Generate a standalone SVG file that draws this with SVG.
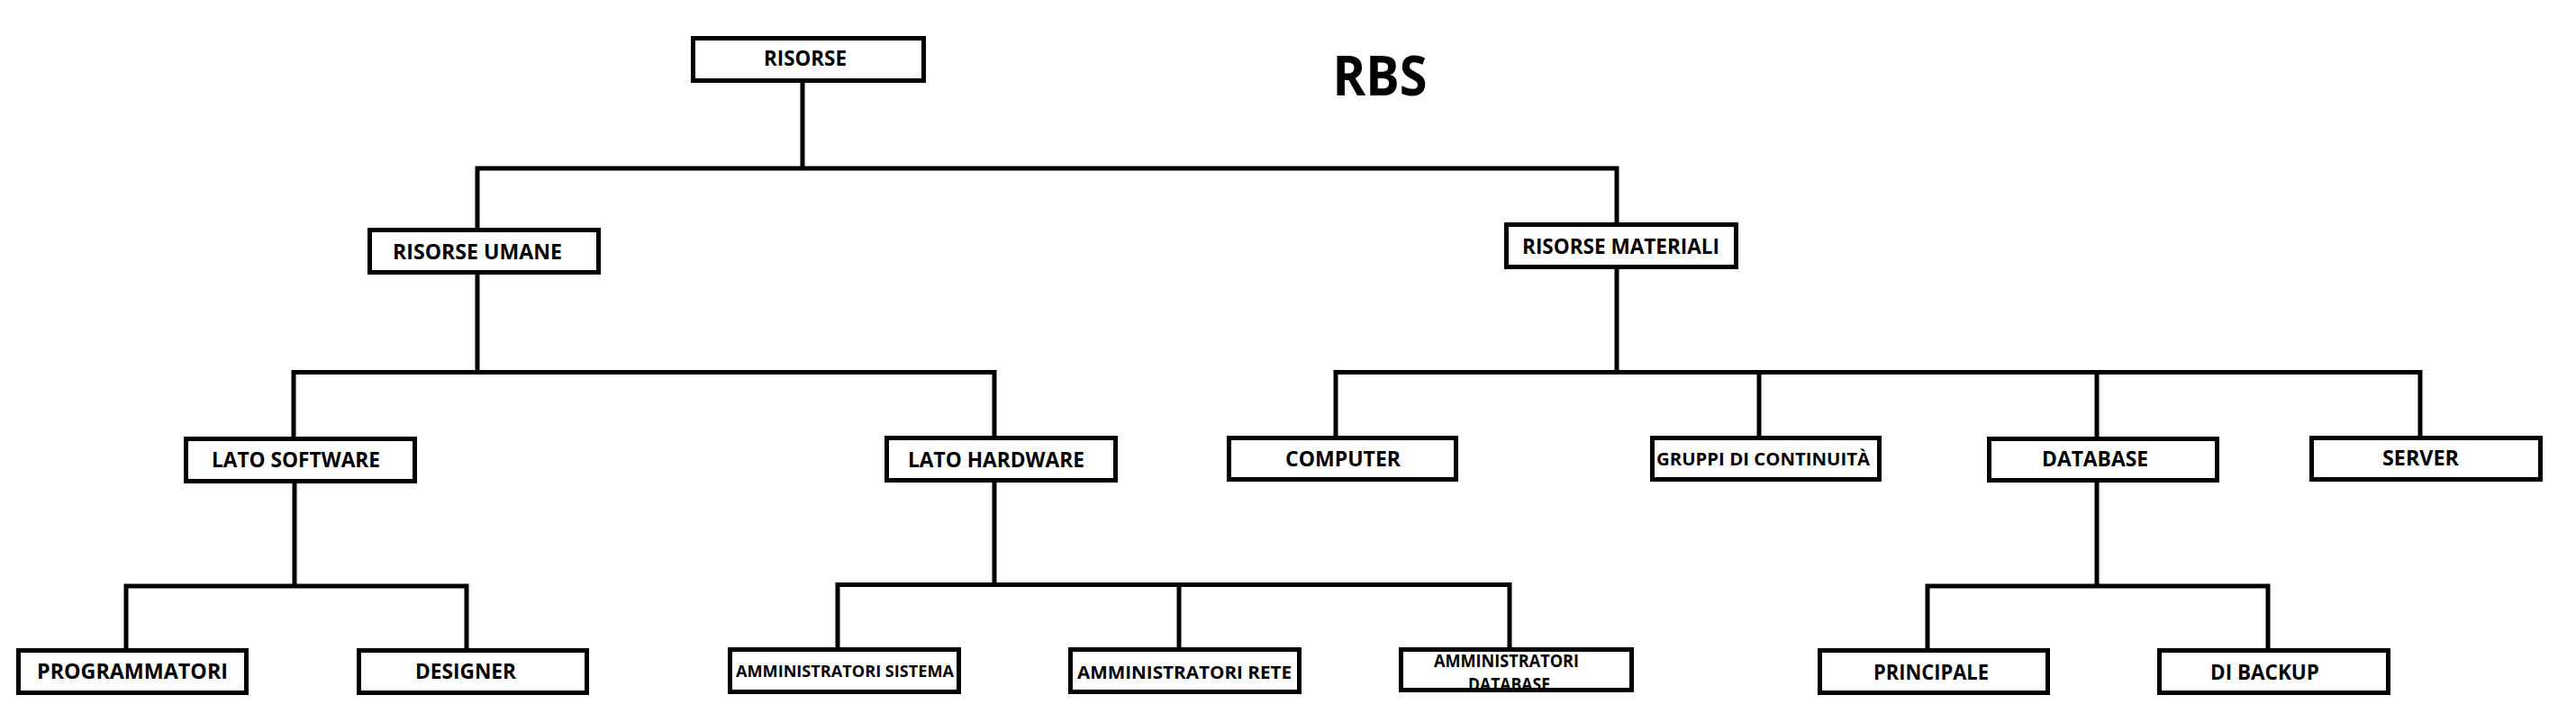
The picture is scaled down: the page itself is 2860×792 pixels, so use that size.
<svg xmlns="http://www.w3.org/2000/svg" width="2860" height="792" viewBox="0 0 2860 792">
<style>
.box{fill:#fff;stroke:#000;stroke-width:5}
.t{font-family:"Open Sans","DejaVu Sans",sans-serif;font-weight:bold;fill:#000;text-anchor:middle}
.c{fill:none;stroke:#000;stroke-width:5;stroke-linejoin:miter}
</style>
<rect width="2860" height="792" fill="#fff"/>
<g id="connectors">
<path class="c" d="M891 92V187M530 253V187H1795V247"/>
<path class="c" d="M530 305V413.5M326 485V413.5H1104V484"/>
<path class="c" d="M1795 299V413.5M1483 484V413.5H2687V484M1953 413.5V484M2328 413.5V485"/>
<path class="c" d="M327 537V651M140 720V651H518V720"/>
<path class="c" d="M1104 536V649.5M930 719V649.5H1676V719M1309 649.5V719"/>
<path class="c" d="M2328 536V651M2140 720V651H2518V720"/>
</g>
<text class="t" x="1532" y="106" font-size="60" textLength="105" lengthAdjust="spacingAndGlyphs">RBS</text>
<g id="n-risorse"><rect class="box" x="769.5" y="42.5" width="256" height="47"/><text class="t" x="894" y="73" font-size="23" textLength="92" lengthAdjust="spacingAndGlyphs">RISORSE</text></g>
<g id="n-umane"><rect class="box" x="410.5" y="255.5" width="254" height="47"/><text class="t" x="530" y="288" font-size="23" textLength="188" lengthAdjust="spacingAndGlyphs">RISORSE UMANE</text></g>
<g id="n-materiali"><rect class="box" x="1672.5" y="249.5" width="255" height="47"/><text class="t" x="1799.5" y="282" font-size="23" textLength="219" lengthAdjust="spacingAndGlyphs">RISORSE MATERIALI</text></g>
<g id="n-software"><rect class="box" x="206.5" y="487.5" width="254" height="47"/><text class="t" x="328.5" y="519" font-size="23" textLength="187" lengthAdjust="spacingAndGlyphs">LATO SOFTWARE</text></g>
<g id="n-hardware"><rect class="box" x="984.5" y="486.5" width="254" height="47"/><text class="t" x="1106" y="519" font-size="23" textLength="196" lengthAdjust="spacingAndGlyphs">LATO HARDWARE</text></g>
<g id="n-computer"><rect class="box" x="1364.5" y="486.5" width="252" height="46"/><text class="t" x="1491" y="518" font-size="23" textLength="128" lengthAdjust="spacingAndGlyphs">COMPUTER</text></g>
<g id="n-gruppi"><rect class="box" x="1834.5" y="486.5" width="252" height="46"/><text class="t" x="1957.5" y="517" font-size="20" textLength="237" lengthAdjust="spacingAndGlyphs">GRUPPI DI CONTINUITÀ</text></g>
<g id="n-database"><rect class="box" x="2208.5" y="487.5" width="253" height="46"/><text class="t" x="2326" y="518" font-size="23" textLength="118" lengthAdjust="spacingAndGlyphs">DATABASE</text></g>
<g id="n-server"><rect class="box" x="2566.5" y="486.5" width="254" height="46"/><text class="t" x="2687.5" y="517" font-size="23" textLength="85" lengthAdjust="spacingAndGlyphs">SERVER</text></g>
<g id="n-programmatori"><rect class="box" x="20.5" y="722.5" width="253" height="47"/><text class="t" x="147" y="754" font-size="23" textLength="212" lengthAdjust="spacingAndGlyphs">PROGRAMMATORI</text></g>
<g id="n-designer"><rect class="box" x="398.5" y="722.5" width="253" height="47"/><text class="t" x="517" y="754" font-size="23" textLength="112" lengthAdjust="spacingAndGlyphs">DESIGNER</text></g>
<g id="n-amm-sistema"><rect class="box" x="810.5" y="721.5" width="254" height="47"/><text class="t" x="938" y="752" font-size="18" textLength="242" lengthAdjust="spacingAndGlyphs">AMMINISTRATORI SISTEMA</text></g>
<g id="n-amm-rete"><rect class="box" x="1188.5" y="721.5" width="254" height="47"/><text class="t" x="1315" y="754" font-size="20" textLength="238" lengthAdjust="spacingAndGlyphs">AMMINISTRATORI RETE</text></g>
<g id="n-amm-database"><rect class="box" x="1555.5" y="721.5" width="256" height="45"/><text class="t" x="1672.5" y="741" font-size="19" textLength="161" lengthAdjust="spacingAndGlyphs">AMMINISTRATORI</text><text class="t" x="1675.5" y="767" font-size="19" textLength="91" lengthAdjust="spacingAndGlyphs">DATABASE</text></g>
<g id="n-principale"><rect class="box" x="2020.5" y="722.5" width="253" height="47"/><text class="t" x="2144" y="755" font-size="23" textLength="128" lengthAdjust="spacingAndGlyphs">PRINCIPALE</text></g>
<g id="n-backup"><rect class="box" x="2397.5" y="722.5" width="254" height="47"/><text class="t" x="2514.5" y="755" font-size="23" textLength="121" lengthAdjust="spacingAndGlyphs">DI BACKUP</text></g>
</svg>
